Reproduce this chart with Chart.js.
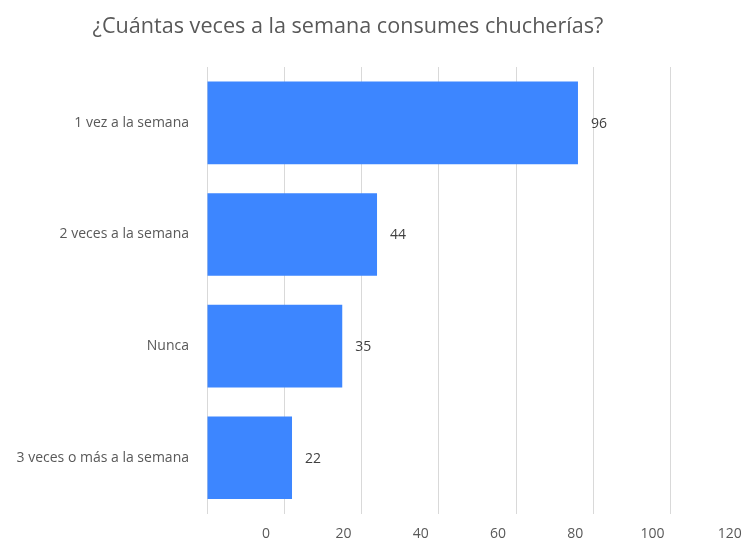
<!DOCTYPE html>
<html>
<head>
<meta charset="utf-8">
<script src="https://cdn.jsdelivr.net/npm/chart.js@4"></script>
<style>
  body { margin: 0; background: #fff; }
  #wrap { width: 748px; height: 540px; }
</style>
</head>
<body>
<div id="wrap"><canvas id="myChart"></canvas></div>
<script>
const titleText = "¿Cuántas veces a la semana consumes chucherías?";
const categories = ["1 vez a la semana", "2 veces a la semana", "Nunca", "3 veces o más a la semana"];
const values = [96, 44, 35, 22];
const tickLabels = [0, 20, 40, 60, 80, 100, 120];
const gridMax = 140;
// the axis labels in the original sit shifted right of their gridlines
const labelShift = 15.3;

const font = "'Open Sans', 'DejaVu Sans', sans-serif";

// title + value labels
const extras = {
  id: "extras",
  afterDatasetsDraw(chart) {
    const ctx = chart.ctx;
    ctx.save();
    ctx.fillStyle = "#595959";
    ctx.font = "21.6px " + font;
    ctx.textAlign = "center";
    ctx.textBaseline = "middle";
    ctx.fillText(titleText, 348, 27);

    ctx.fillStyle = "#404040";
    ctx.font = "14px " + font;
    ctx.textAlign = "left";
    const meta = chart.getDatasetMeta(0);
    meta.data.forEach((bar, i) => {
      ctx.fillText(values[i], bar.x + 13, bar.y + 1);
    });
    ctx.restore();
  },
};

const ctx = document.getElementById("myChart");
const myChart = new Chart(ctx, {
  type: "bar",
  data: {
    labels: categories,
    datasets: [
      {
        data: values,
        backgroundColor: "#3d86ff",
        barPercentage: 0.74,
        categoryPercentage: 1,
        xAxisID: "x",
      },
    ],
  },
  options: {
    indexAxis: "y",
    responsive: true,
    maintainAspectRatio: false,
    animation: false,
    layout: { padding: { top: 67, left: 0, right: 0, bottom: 0 } },
    plugins: {
      legend: { display: false },
      title: { display: false },
      tooltip: { enabled: false },
    },
    scales: {
      x: {
        position: "bottom",
        min: 0,
        max: gridMax,
        ticks: { display: false, stepSize: 20 },
        grid: { color: "#d9d9d9", drawTicks: false },
        border: { display: false },
        afterFit: (s) => { s.height = 0; s.paddingLeft = 0; s.paddingRight = 0; },
      },
      x2: {
        position: "bottom",
        min: -labelShift,
        max: gridMax - labelShift,
        grid: { display: false, drawTicks: false },
        border: { display: false },
        ticks: {
          color: "#595959",
          font: { family: font, size: 14 },
          padding: 12,
          maxRotation: 0,
        },
        afterBuildTicks: (s) => {
          s.ticks = tickLabels.map((v) => ({ value: v }));
        },
        afterFit: (s) => { s.height = 25; s.paddingLeft = 0; s.paddingRight = 0; },
      },
      y: {
        grid: { display: false, drawTicks: false },
        border: { display: false },
        ticks: {
          color: "#595959",
          font: { family: font, size: 14 },
          padding: 18,
        },
        afterFit: (s) => { s.width = 207; },
      },
    },
  },
  plugins: [extras],
});
</script>
</body>
</html>
